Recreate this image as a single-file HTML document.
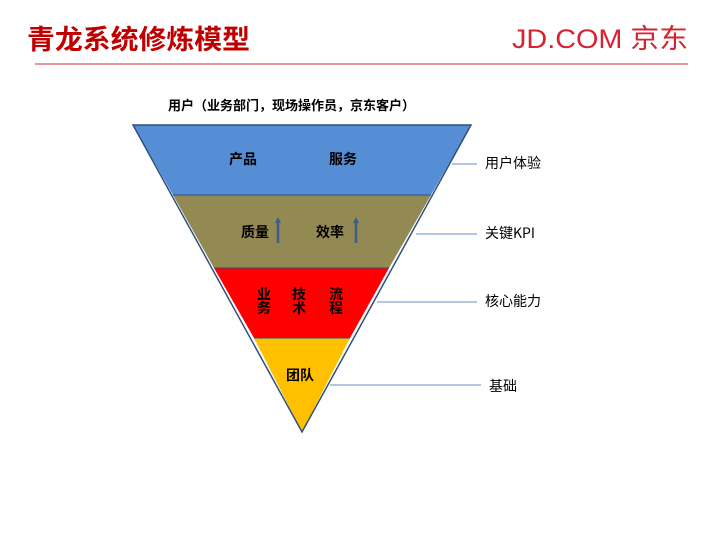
<!DOCTYPE html>
<html><head><meta charset="utf-8"><style>
body{margin:0;width:720px;height:540px;background:#fff;overflow:hidden;font-family:"Liberation Sans","Noto Sans CJK SC",sans-serif;}
</style></head><body>
<svg width="720" height="540" xmlns="http://www.w3.org/2000/svg" style="position:absolute;left:0;top:0">
<text x="27" y="49" font-size="27" font-weight="bold" fill="#c00000" font-family="Noto Sans CJK SC,sans-serif" textLength="223" lengthAdjust="spacingAndGlyphs">青龙系统修炼模型</text>
<text x="512" y="48" font-size="27" fill="#d62231" font-family="Liberation Sans,Noto Sans CJK SC,sans-serif" textLength="176" lengthAdjust="spacingAndGlyphs">JD.COM 京东</text>
<line x1="35" y1="64" x2="688" y2="64" stroke="#e07080" stroke-width="1.5"/>
<text x="168" y="110" font-size="13" font-weight="bold" fill="#000" font-family="Noto Sans CJK SC,sans-serif">用户（业务部门，现场操作员，京东客户）</text>
<polygon points="133,125 471,125 431,195 173,195" fill="#558ed5"/>
<polygon points="173,195 431,195 389,268 214,268" fill="#938953"/>
<polygon points="214,268 389,268 350,338 254,338" fill="#ff0000"/>
<polygon points="254,338 350,338 302,432" fill="#ffc000"/>
<polygon points="133,125 471,125 302,432" fill="none" stroke="#2f4f7f" stroke-width="1.5"/>
<line x1="173" y1="195" x2="431" y2="195" stroke="#2f4f7f"/>
<line x1="214" y1="268" x2="389" y2="268" stroke="#2f4f7f"/>
<line x1="254" y1="338" x2="350" y2="338" stroke="#2f4f7f"/>
<g font-size="14" font-weight="bold" fill="#000" font-family="Noto Sans CJK SC,sans-serif">
<text x="229" y="164">产品</text><text x="329" y="164">服务</text>
<text x="241" y="237">质量</text><text x="316" y="237">效率</text>
<text x="257" y="299">业</text><text x="257" y="313">务</text>
<text x="292" y="299">技</text><text x="292" y="313">术</text>
<text x="329" y="299">流</text><text x="329" y="313">程</text>
<text x="286" y="380">团队</text>
</g>
<g stroke="#3a5f8a" stroke-width="2.5" fill="#3a5f8a">
<line x1="278" y1="243" x2="278" y2="222"/><polygon points="275,223 281,223 278,217" stroke="none"/>
<line x1="356" y1="243" x2="356" y2="222"/><polygon points="353,223 359,223 356,217" stroke="none"/>
</g>
<g stroke="#6a8fc0" stroke-width="1">
<line x1="452" y1="164" x2="477" y2="164"/>
<line x1="416" y1="234" x2="477" y2="234"/>
<line x1="377" y1="302" x2="477" y2="302"/>
<line x1="330" y1="385" x2="481" y2="385"/>
</g>
<g font-size="14" fill="#000" font-family="Noto Sans CJK SC,sans-serif">
<text x="485" y="168">用户体验</text>
<text x="485" y="238">关键KPI</text>
<text x="485" y="306">核心能力</text>
<text x="489" y="391">基础</text>
</g>
</svg>
</body></html>
